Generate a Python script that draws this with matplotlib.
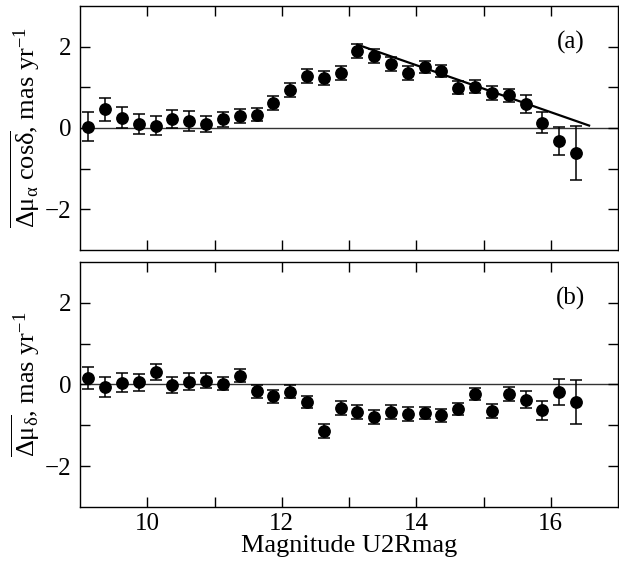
import matplotlib
matplotlib.use("Agg")
import matplotlib.pyplot as plt
from matplotlib.ticker import FixedLocator, FuncFormatter

plt.rcParams['font.family'] = ['Liberation Serif', 'DejaVu Serif']
plt.rcParams['mathtext.fontset'] = 'custom'
plt.rcParams['mathtext.rm'] = 'Liberation Serif'
plt.rcParams['mathtext.it'] = 'Liberation Serif'
plt.rcParams['mathtext.bf'] = 'Liberation Serif:bold'
plt.rcParams['axes.unicode_minus'] = True

mag = [9.125, 9.375, 9.625, 9.875, 10.125, 10.375, 10.625, 10.875, 11.125, 11.375,
       11.625, 11.875, 12.125, 12.375, 12.625, 12.875, 13.125, 13.375, 13.625, 13.875,
       14.125, 14.375, 14.625, 14.875, 15.125, 15.375, 15.625, 15.875, 16.125, 16.375]

mu_a = [0.03, 0.46, 0.25, 0.10, 0.06, 0.22, 0.17, 0.09, 0.21, 0.29,
        0.33, 0.62, 0.93, 1.27, 1.22, 1.36, 1.89, 1.77, 1.57, 1.36,
        1.50, 1.41, 0.99, 1.01, 0.86, 0.80, 0.59, 0.13, -0.32, -0.61]
err_a = [0.36, 0.28, 0.26, 0.25, 0.24, 0.23, 0.24, 0.20, 0.18, 0.17,
         0.17, 0.17, 0.17, 0.17, 0.17, 0.17, 0.17, 0.17, 0.17, 0.17,
         0.14, 0.15, 0.16, 0.16, 0.17, 0.17, 0.21, 0.26, 0.35, 0.66]

mu_d = [0.16, -0.06, 0.04, 0.05, 0.31, -0.02, 0.07, 0.09, 0.02, 0.22,
        -0.17, -0.29, -0.18, -0.43, -1.14, -0.57, -0.68, -0.80, -0.68, -0.72,
        -0.70, -0.75, -0.60, -0.23, -0.64, -0.24, -0.37, -0.63, -0.18, -0.42]
err_d = [0.26, 0.25, 0.23, 0.20, 0.20, 0.20, 0.20, 0.18, 0.16, 0.16,
         0.16, 0.16, 0.16, 0.14, 0.17, 0.17, 0.17, 0.17, 0.17, 0.17,
         0.15, 0.16, 0.15, 0.14, 0.17, 0.17, 0.20, 0.23, 0.31, 0.54]

fit_x = [13.125, 16.57]
fit_y = [2.05, 0.06]

xticks = [10, 11, 12, 13, 14, 15, 16]
yticks = [-2, -1, 0, 1, 2]

W, H = 619, 568
fig = plt.figure(figsize=(W / 100, H / 100), dpi=100)
ax1 = fig.add_axes([80 / W, 1 - 250 / H, (618 - 80) / W, (250 - 6) / H])
ax2 = fig.add_axes([80 / W, 1 - 507 / H, (618 - 80) / W, (507 - 262) / H])


def even_fmt(v, pos):
    iv = int(round(v))
    if iv % 2 == 0:
        return '\u2212%d' % abs(iv) if iv < 0 else '%d' % iv
    return ''


for ax, y, e, lab, tag in [
        (ax1, mu_a, err_a, r'$\overline{\Delta\mu_{\alpha}\ \mathrm{cos}\delta}$, mas yr$^{-1}$', '(a)'),
        (ax2, mu_d, err_d, r'$\overline{\Delta\mu_{\delta}}$, mas yr$^{-1}$', '(b)')]:
    ax.axhline(0, color='#333333', lw=1.0, zorder=1)
    ax.errorbar(mag, y, yerr=e, fmt='o', color='black', ms=8.2, capsize=4.5,
                elinewidth=1.1, capthick=1.1, zorder=3)
    ax.set_xlim(9, 17)
    ax.set_ylim(-3, 3)
    ax.xaxis.set_major_locator(FixedLocator(xticks))
    ax.yaxis.set_major_locator(FixedLocator(yticks))
    ax.xaxis.set_major_formatter(FuncFormatter(even_fmt))
    ax.yaxis.set_major_formatter(FuncFormatter(even_fmt))
    ax.tick_params(direction='in', length=7, width=1.0, top=True, right=True,
                   labelsize=18, pad=6)
    ax.tick_params(axis='x', pad=4)
    for s in ax.spines.values():
        s.set_linewidth(1.0)
    ax.set_ylabel(lab, fontsize=19, labelpad=2)
    ax.text(16.3, 2.1, tag, fontsize=18, ha='center', va='center')

ax1.plot(fit_x, fit_y, color='black', lw=1.6, zorder=2)
ax1.tick_params(labelbottom=False)
ax2.set_xlabel('Magnitude U2Rmag', fontsize=19, labelpad=0)

fig.savefig('out.png', dpi=100)
